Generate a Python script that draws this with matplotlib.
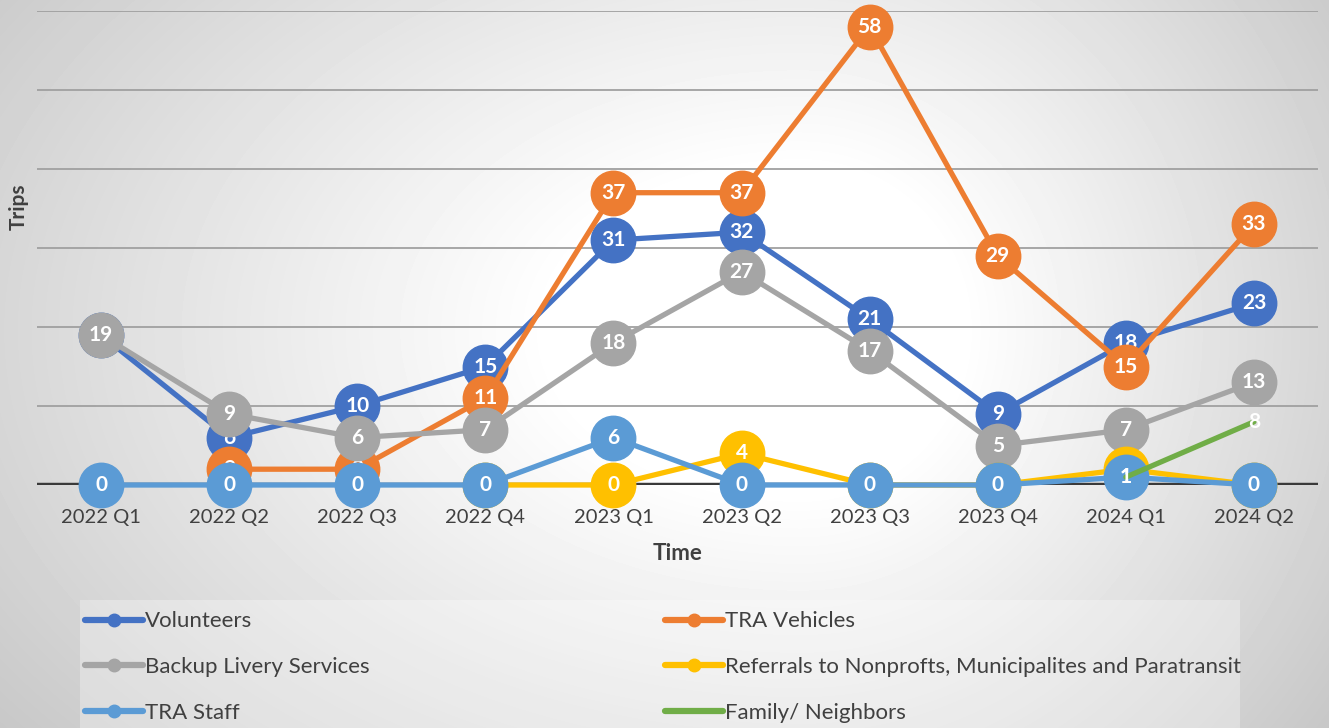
import numpy as np
import matplotlib
matplotlib.use('Agg')
import matplotlib.pyplot as plt
from matplotlib.lines import Line2D
from matplotlib.patches import Rectangle

nan = np.nan
quarters = ['2022 Q1', '2022 Q2', '2022 Q3', '2022 Q4', '2023 Q1',
            '2023 Q2', '2023 Q3', '2023 Q4', '2024 Q1', '2024 Q2']
volunteers = [19, 6, 10, 15, 31, 32, 21, 9, 18, 23]
tra_vehicles = [nan, 2, 2, 11, 37, 37, 58, 29, 15, 33]
backup_livery = [19, 9, 6, 7, 18, 27, 17, 5, 7, 13]
referrals = [nan, nan, nan, 0, 0, 4, 0, 0, 2, 0]
tra_staff = [0, 0, 0, 0, 6, 0, 0, 0, 1, 0]
family = [nan, nan, nan, nan, nan, nan, nan, nan, 1, 8]

series_names = ['Volunteers', 'TRA Vehicles', 'Backup Livery Services',
                'Referrals to Nonprofts, Municipalites and Paratransit',
                'TRA Staff', 'Family/ Neighbors']
series_values = [volunteers, tra_vehicles, backup_livery, referrals, tra_staff, family]
series_colors = ['#4472C4', '#ED7D31', '#A5A5A5', '#FFC000', '#5B9BD5', '#70AD47']
series_markers = [True, True, True, True, True, False]

plt.rcParams['font.family'] = ['Lato', 'DejaVu Sans']

W, H = 1329, 728
fig = plt.figure(figsize=(W / 100, H / 100), dpi=100)

# background gradient
bg = fig.add_axes([0, 0, 1, 1], zorder=-10)
yy, xx = np.mgrid[0:H, 0:W]
cx, cy = 800.0, 330.0
dx = np.where(xx < cx, (xx - cx) / 1000.0, (xx - cx) / 650.0)
dy = (yy - cy) / 650.0
r = np.sqrt(dx ** 2 + dy ** 2)
t = np.clip((r - 0.25) / 0.85, 0, 1)
gray = (255 - 62 * t) / 255.0
bg.imshow(gray, cmap='gray', vmin=0, vmax=1, extent=[0, W, H, 0], aspect='auto',
          interpolation='bilinear')
bg.set_xlim(0, W)
bg.set_ylim(H, 0)
bg.axis('off')

ax = fig.add_axes([37 / W, 243 / H, 1281 / W, 474 / H])
ax.patch.set_alpha(0)
x = np.arange(len(quarters))
ax.set_xlim(-0.5, len(quarters) - 0.5)
ax.set_ylim(0, 60)
ax.set_yticks(np.arange(10, 61, 10))
ax.yaxis.grid(True, color='#A0A0A0', lw=1.3)
ax.set_axisbelow(True)
ax.tick_params(axis='y', length=0, labelleft=False)
for s in ax.spines.values():
    s.set_visible(False)
ax.axhline(0, color='#3A3A3A', lw=3.2, zorder=1)
ax.set_xticks(x)
ax.set_xticklabels(quarters, fontsize=14.5, color='#404040')
ax.tick_params(axis='x', length=0, pad=17)

legend_handles = []
for k, (name, vals, col, mk) in enumerate(zip(series_names, series_values,
                                              series_colors, series_markers)):
    v = np.array(vals, dtype=float)
    z = 3 + 2 * k
    if mk:
        ax.plot(x, v, color=col, lw=3.8, marker='o', ms=32, mec=col, mfc=col,
                zorder=z, clip_on=False, solid_capstyle='round')
    else:
        ax.plot(x, v, color=col, lw=3.8, zorder=z, clip_on=False,
                solid_capstyle='round')
    for xi, vi in zip(x, v):
        if not np.isnan(vi):
            ax.text(xi, vi, f'{int(vi)}', ha='center', va='center', color='white',
                    fontsize=15, fontweight='bold', zorder=z + 1)
    if mk:
        legend_handles.append(Line2D([], [], color=col, lw=4.5, marker='o', ms=9,
                                     solid_capstyle='round'))
    else:
        legend_handles.append(Line2D([], [], color=col, lw=4.5,
                                     solid_capstyle='round'))

fig.text(678 / W, 1 - 553 / H, 'Time', ha='center', va='center', fontsize=16,
         fontweight='bold', color='#404040')
fig.text(19 / W, 1 - 207 / H, 'Trips', ha='center', va='center', fontsize=15,
         fontweight='bold', color='#404040', rotation=90)

# legend box
fig.patches.append(Rectangle((80 / W, 0), 1160 / W, 128 / H, transform=fig.transFigure,
                             facecolor='white', alpha=0.3, edgecolor='none', zorder=0))

left_idx = [0, 2, 4]
right_idx = [1, 3, 5]
for idx, xpos in ((left_idx, 85), (right_idx, 665)):
    leg = fig.legend([legend_handles[i] for i in idx], [series_names[i] for i in idx],
                     loc='center left', bbox_to_anchor=(xpos / W, 1 - 667 / H),
                     frameon=False, fontsize=16, handlelength=2.6,
                     handletextpad=0.1, labelspacing=1.15, borderpad=0,
                     borderaxespad=0)
    for txt in leg.get_texts():
        txt.set_color('#404040')

fig.savefig('out.png', dpi=100)
